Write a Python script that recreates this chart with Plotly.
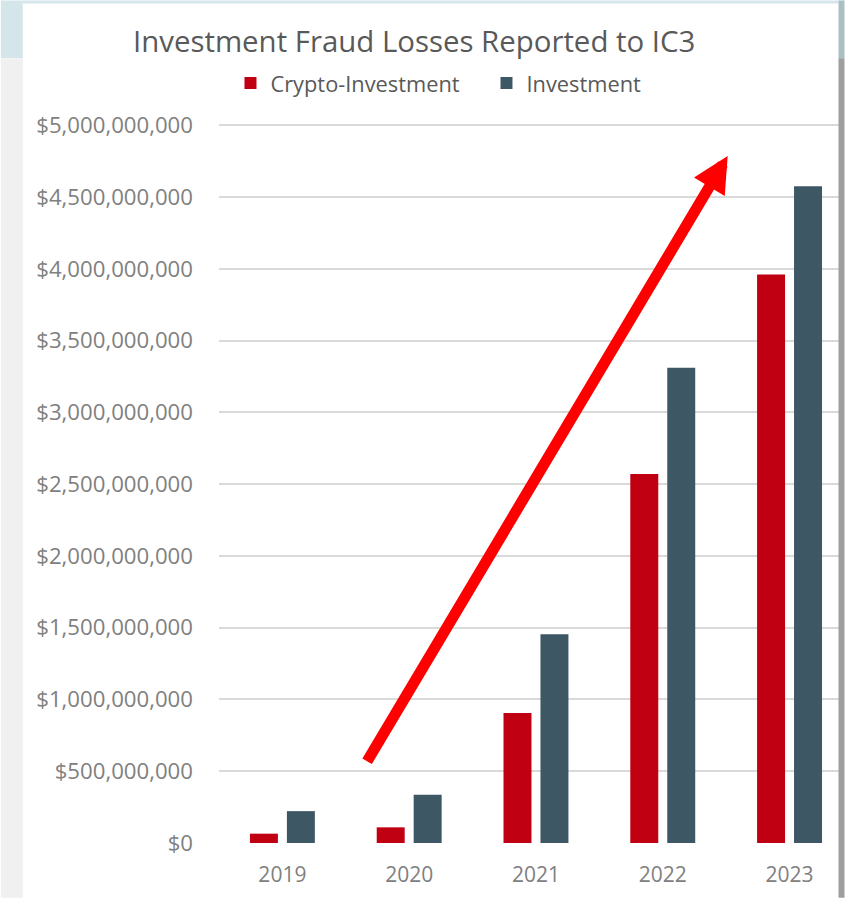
import plotly.graph_objects as go

years = ["2019", "2020", "2021", "2022", "2023"]
crypto_investment = [65e6, 109e6, 905e6, 2570e6, 3960e6]
investment = [222e6, 336e6, 1455e6, 3311e6, 4575e6]
y_ticks = [0, 5e8, 1e9, 1.5e9, 2e9, 2.5e9, 3e9, 3.5e9, 4e9, 4.5e9, 5e9]

W, H = 845, 898
L, R, T, B = 218.5, 5.5, 120.7, 54.7
PW, PH = W - L - R, H - T - B


def px(x):
    return (x - L) / PW


def py(y):
    return (H - B - y) / PH


FONT = "Open Sans, Segoe UI, DejaVu Sans, sans-serif"

fig = go.Figure()
fig.add_trace(go.Bar(name="Crypto-Investment", x=years, y=crypto_investment,
                     marker=dict(color="#C00012", line=dict(width=0))))
fig.add_trace(go.Bar(name="Investment", x=years, y=investment,
                     marker=dict(color="#3E5764", line=dict(width=0))))

shapes = [
    dict(type="rect", xref="paper", yref="paper", x0=px(0), x1=px(22), y0=py(0), y1=py(58),
         fillcolor="#D5E6EB", line=dict(width=0), layer="above"),
    dict(type="rect", xref="paper", yref="paper", x0=px(0), x1=px(22), y0=py(58), y1=py(898),
         fillcolor="#F0F0F0", line=dict(width=0), layer="above"),
    dict(type="rect", xref="paper", yref="paper", x0=px(22), x1=px(839), y0=py(0), y1=py(3),
         fillcolor="#D5E6EB", line=dict(width=0), layer="above"),
    dict(type="rect", xref="paper", yref="paper", x0=px(839), x1=px(845), y0=py(0), y1=py(58),
         fillcolor="#A9BFC3", line=dict(width=0), layer="above"),
    dict(type="rect", xref="paper", yref="paper", x0=px(839), x1=px(845), y0=py(58), y1=py(898),
         fillcolor="#9E9E9E", line=dict(width=0), layer="above"),
]

annotations = [
    dict(x=3.512, y=4.786e9, ax=0.661, ay=0.559e9, xref="x", yref="y", axref="x", ayref="y",
         showarrow=True, arrowhead=2, arrowsize=0.65, arrowwidth=11, arrowcolor="#FF0000",
         text=""),
    dict(x=px(413.5), y=py(41), xref="paper", yref="paper", text="Investment Fraud Losses Reported to IC3",
         showarrow=False, font=dict(family=FONT, size=29.4, color="#595959"),
         xanchor="center", yanchor="middle"),
]

fig.update_layout(
    width=W, height=H,
    margin=dict(l=L, r=R, t=T, b=B, autoexpand=False),
    paper_bgcolor="white", plot_bgcolor="white",
    barmode="group", bargap=0.417, bargroupgap=0.243,
    showlegend=True,
    legend=dict(orientation="h", x=px(230), y=py(83), xanchor="left", yanchor="middle",
                font=dict(family=FONT, size=21.8, color="#595959"),
                itemwidth=30, entrywidth=211, entrywidthmode="pixels",
                traceorder="normal", bgcolor="rgba(0,0,0,0)"),
    font=dict(family=FONT, color="#808080"),
    xaxis=dict(type="category", range=[-0.5, 4.39], showgrid=False, zeroline=False,
               showline=False, ticks="", ticklabelstandoff=17,
               tickfont=dict(family=FONT, size=21, color="#808080")),
    yaxis=dict(range=[0, 5.03e9], tickvals=y_ticks, tickformat="$,", showgrid=True,
               gridcolor="#D9D9D9", gridwidth=1.5, zeroline=False, showline=False, ticks="",
               ticklabelstandoff=25,
               tickfont=dict(family=FONT, size=22.2, color="#808080")),
    shapes=shapes,
    annotations=annotations,
)

fig.write_html("out.html", config={"displayModeBar": False},
               post_script="document.body.style.margin='0px';")
